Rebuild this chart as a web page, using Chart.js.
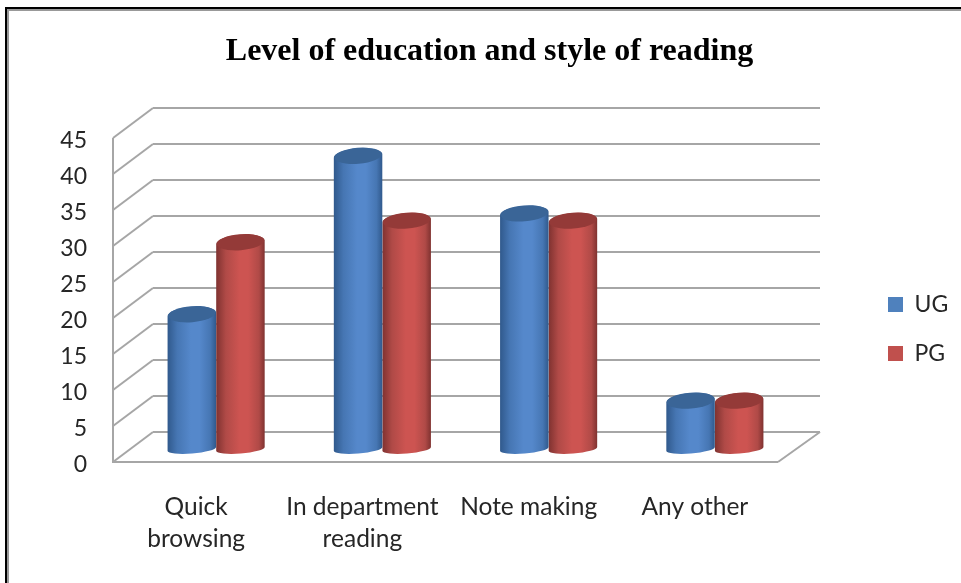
<!DOCTYPE html>
<html>
<head>
<meta charset="utf-8">
<title>Level of education and style of reading</title>
<script src="https://cdn.jsdelivr.net/npm/chart.js@4"></script>
<style>
    html, body { margin: 0; padding: 0; background: #fff; }
    #wrap { position: absolute; left: 0; top: 0; width: 961px; height: 583px; }
</style>
</head>
<body>
<div id="wrap"><canvas id="chart"></canvas></div>
<script>
const categories = [['Quick', 'browsing'], ['In department', 'reading'], 'Note making', 'Any other'];
const ugValues = [19, 41, 33, 7];
const pgValues = [29, 32, 32, 7];
const yTicks = [0, 5, 10, 15, 20, 25, 30, 35, 40, 45];

// depth of the fake 3d box, in px
const depthX = 40;
const depthY = 30;
const gridColor = '#a6a6a6';

const shades = {
    '#4f81bd': { edge: '#30598c', soft: '#4676b3', mid: '#5588cb', top: '#3a6597' },
    '#c0504d': { edge: '#7f3230', soft: '#b04a47', mid: '#cd5451', top: '#943a38' }
};

function line(ctx, x1, y1, x2, y2) {
    ctx.beginPath();
    ctx.moveTo(x1, y1);
    ctx.lineTo(x2, y2);
    ctx.stroke();
}

function drawCylinder(ctx, el, color) {
    const s = shades[color];
    const cx = el.x + depthX / 2;
    const rx = el.width / 2;
    const tilt = -0.08;
    const topY = el.y - 11;
    const baseY = el.base - 13;

    const grad = ctx.createLinearGradient(cx - rx, 0, cx + rx, 0);
    grad.addColorStop(0, s.edge);
    grad.addColorStop(0.2, s.soft);
    grad.addColorStop(0.48, s.mid);
    grad.addColorStop(0.66, s.mid);
    grad.addColorStop(0.88, s.soft);
    grad.addColorStop(1, s.edge);

    ctx.save();
    ctx.fillStyle = grad;
    ctx.beginPath();
    ctx.ellipse(cx, baseY, rx, 4.5, tilt, 0, Math.PI);
    ctx.ellipse(cx, topY, rx, 7.5, tilt, Math.PI, 0);
    ctx.closePath();
    ctx.fill();

    ctx.fillStyle = s.top;
    ctx.beginPath();
    ctx.ellipse(cx, topY, rx - 0.5, 8, tilt, 0, Math.PI * 2);
    ctx.fill();
    ctx.restore();
}

const box3d = {
    id: 'box3d',
    afterLayout(chart) {
        // title and legend sit where the picture has them, not where the layout puts them
        const t = chart.titleBlock;
        t.left = 0;
        t.right = 979;
        const l = chart.legend;
        l.left = 862;
        l.right = 961;
        l.top = 267;
        l.bottom = 583;
        l.adjustHitBoxes();
    },
    beforeDraw(chart) {
        const ctx = chart.ctx;
        // frame of the pasted picture
        ctx.save();
        ctx.fillStyle = '#000';
        ctx.fillRect(5, 7, 956, 2);
        ctx.fillRect(5, 7, 2, 576);
        ctx.fillStyle = '#999';
        ctx.fillRect(7, 9, 954, 2);
        ctx.fillRect(7, 9, 2, 574);
        ctx.restore();
        // Lato sits a bit high on the middle baseline
        chart.scales.y.getLabelItems(chart.chartArea).forEach(item => {
            item.options.translation[1] += 3;
        });
    },
    beforeDatasetsDraw(chart) {
        const { ctx, chartArea, scales } = chart;
        const left = chartArea.left;
        const right = chartArea.right;
        ctx.save();
        ctx.strokeStyle = gridColor;
        ctx.lineWidth = 2;
        yTicks.forEach(v => {
            const y = Math.round(scales.y.getPixelForValue(v));
            line(ctx, left, y, left + depthX, y - depthY);
            line(ctx, left + depthX, y - depthY, right + depthX + 2, y - depthY);
        });
        // side wall edge and floor
        line(ctx, left, scales.y.getPixelForValue(45), left, scales.y.getPixelForValue(0) + 1);
        const floorY = Math.round(scales.y.getPixelForValue(0));
        line(ctx, left, floorY, right, floorY);
        line(ctx, right, floorY, right + depthX + 2, floorY - depthY);
        ctx.restore();
    },
    beforeDatasetDraw(chart, args) {
        args.meta.data.forEach(el => {
            drawCylinder(chart.ctx, el, chart.data.datasets[args.index].backgroundColor);
        });
        return false;
    }
};

new Chart(document.getElementById('chart'), {
    type: 'bar',
    data: {
        labels: categories,
        datasets: [
            { label: 'UG', data: ugValues, backgroundColor: '#4f81bd' },
            { label: 'PG', data: pgValues, backgroundColor: '#c0504d' }
        ]
    },
    options: {
        responsive: true,
        maintainAspectRatio: false,
        animation: false,
        layout: { padding: { left: 0, right: 183, top: 0, bottom: 0 } },
        datasets: { bar: { categoryPercentage: 0.585, barPercentage: 1 } },
        plugins: {
            title: {
                display: true,
                text: 'Level of education and style of reading',
                color: '#000',
                font: { family: 'Liberation Serif', size: 32, weight: 'bold' },
                padding: { top: 33, bottom: 66.6 }
            },
            legend: {
                position: 'chartArea',
                align: 'start',
                labels: {
                    boxWidth: 15,
                    boxHeight: 15,
                    padding: 26,
                    color: '#262626',
                    font: { family: 'Lato', size: 23 }
                }
            },
            tooltip: { enabled: false }
        },
        scales: {
            x: {
                grid: { display: false },
                border: { display: false },
                afterFit(scale) { scale.height = 121; },
                ticks: {
                    padding: 21,
                    maxRotation: 0,
                    color: '#262626',
                    font: { family: 'Lato', size: 24.5, lineHeight: 1.3 }
                }
            },
            y: {
                min: 0,
                max: 45,
                grid: { display: false },
                border: { display: false },
                afterFit(scale) { scale.width = 113; },
                ticks: {
                    stepSize: 5,
                    padding: 18,
                    color: '#262626',
                    font: { family: 'Lato', size: 23 }
                }
            }
        }
    },
    plugins: [box3d]
});
</script>
</body>
</html>
